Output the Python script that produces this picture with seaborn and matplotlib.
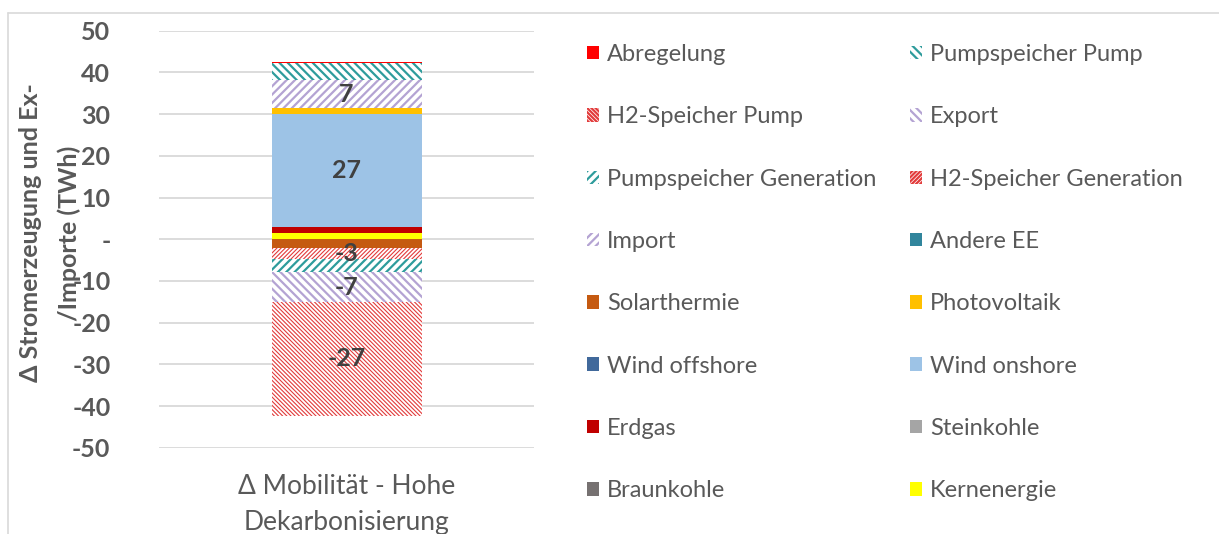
import numpy as np
import pandas as pd
import matplotlib
matplotlib.use("Agg")
import matplotlib.pyplot as plt
import seaborn as sns
from matplotlib.patches import Patch
from matplotlib.lines import Line2D
from matplotlib.ticker import FuncFormatter

sns.set_theme(style="white")
plt.rcParams["font.family"] = ["Lato", "DejaVu Sans"]

category = "Δ Mobilität - Hohe\nDekarbonisierung"

# series in stacking order, first one sits at the bottom
series = ["Kernenergie", "Braunkohle", "Steinkohle", "Erdgas", "Wind onshore", "Wind offshore",
          "Photovoltaik", "Solarthermie", "Andere EE", "Import", "H2-Speicher Generation",
          "Pumpspeicher Generation", "Export", "H2-Speicher Pump", "Pumpspeicher Pump", "Abregelung"]
values = [1.6, 0.0, 0.0, 1.4, 27.1, 0.0, 1.3, -2.1, 0.0, 6.8, -2.6, -3.2, -7.2, -27.2, 4.0, 0.2]
colors = ["#FFFF00", "#767171", "#A5A5A5", "#C00000", "#9DC3E6", "#41699B",
          "#FFC000", "#C55A11", "#31859C", "#B4A3D3", "#E23B3B",
          "#2E9C9C", "#B4A3D3", "#E23B3B", "#2E9C9C", "#FF0000"]
hatches = [None, None, None, None, None, None,
           None, None, None, "/" * 4, "/" * 8,
           "/" * 4, "\\" * 4, "\\" * 8, "\\" * 4, None]
labelled = ["Wind onshore", "Import", "H2-Speicher Generation", "Export", "H2-Speicher Pump"]

grey = "#595959"

fig = plt.figure(figsize=(12.19, 5.34), dpi=100)
ax = fig.add_axes([159 / 1219, (534 - 447.7) / 534, 375 / 1219, (447.7 - 30.8) / 534])

pos_base = 0.0
neg_base = 0.0
for name, v, c, h in zip(series, values, colors, hatches):
    base = pos_base if v >= 0 else neg_base
    if h is None:
        sns.barplot(x=[category], y=[v], bottom=base, color=c, saturation=1, width=0.4,
                    linewidth=0, errorbar=None, ax=ax)
    else:
        lw = 0.8 if "H2" in name else 1.6
        with plt.rc_context({"hatch.linewidth": lw}):
            sns.barplot(x=[category], y=[v], bottom=base, color="white", edgecolor=c,
                        saturation=1, hatch=h, width=0.4, linewidth=0, errorbar=None, ax=ax)
    if name in labelled:
        ax.text(0, base + v / 2, f"{v:.0f}", ha="center", va="center",
                fontsize=18, fontweight="bold", color="#404040")
    if v >= 0:
        pos_base += v
    else:
        neg_base += v

ax.set_ylim(-50, 50)
ax.set_yticks(np.arange(-50, 51, 10))
ax.yaxis.set_major_formatter(FuncFormatter(lambda v, p: "-" if v == 0 else f"{v:.0f}"))
ax.grid(axis="y", color="#D9D9D9", linewidth=1.3)
ax.set_axisbelow(True)
for s in ax.spines.values():
    s.set_visible(False)
ax.tick_params(axis="y", length=0, pad=35, labelsize=18, labelcolor=grey)
ax.tick_params(axis="x", length=0, pad=19, labelsize=19, labelcolor=grey)
for t in ax.get_yticklabels():
    t.set_fontweight("bold")
for t in ax.get_xticklabels():
    t.set_linespacing(1.55)
ax.set_xlabel("")
ax.set_ylabel("")

fig.text(50 / 1219, (534 - 233) / 534, "Δ Stromerzeugung und Ex-\n/Importe (TWh)",
         rotation=90, ha="center", va="center", multialignment="center",
         fontsize=18, fontweight="bold", color=grey, linespacing=1.8)

# legend, two columns filled row by row like the original
rev = series[::-1]
def handle(name):
    i = series.index(name)
    if hatches[i] is None:
        return Patch(facecolor=colors[i], linewidth=0)
    return Patch(facecolor="white", edgecolor=colors[i], hatch=hatches[i], linewidth=0)

col1 = rev[0::2]
col2 = rev[1::2]
for names, x0 in [(col1, 587), (col2, 910)]:
    with plt.rc_context({"hatch.linewidth": 1.6}):
        fig.legend([handle(n) for n in names], names, loc="upper left",
                   bbox_to_anchor=(x0 / 1219, 1 - 44 / 534), frameon=False,
                   fontsize=17, labelcolor=grey, handlelength=0.5, handleheight=0.5,
                   handletextpad=0.35, labelspacing=1.75, borderpad=0, borderaxespad=0)

fig.add_artist(Line2D([8 / 1219, 1], [1 - 12.5 / 534] * 2, color="#D9D9D9", linewidth=1.2))
fig.add_artist(Line2D([8 / 1219] * 2, [0, 1 - 12.5 / 534], color="#D9D9D9", linewidth=1.2))

fig.savefig("out.png", dpi=100)
